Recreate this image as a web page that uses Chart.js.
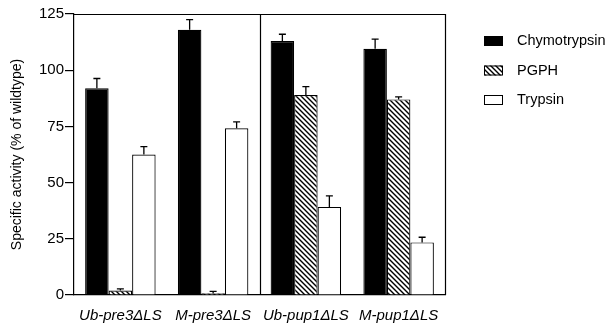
<!DOCTYPE html>
<html>
<head>
<meta charset="utf-8">
<script src="https://cdn.jsdelivr.net/npm/chart.js@4/dist/chart.umd.min.js"></script>
<style>
  html, body { margin: 0; padding: 0; background: #fff; }
  #wrap { width: 611px; height: 324px; }
</style>
</head>
<body>
<div id="wrap"><canvas id="chart" width="611" height="324"></canvas></div>
<script>
var categories = ['Ub-pre3\u0394LS', 'M-pre3\u0394LS', 'Ub-pup1\u0394LS', 'M-pup1\u0394LS'];
var chymotrypsin = [92, 118, 113, 109.5];
var chymotrypsinErr = [4.3, 4.5, 3, 4.3];
var pgph = [2, 0.8, 89, 87];
var pgphErr = [0.7, 0.8, 3.7, 1.1];
var trypsin = [62.5, 74.2, 39.2, 23.4];
var trypsinErr = [3.5, 2.8, 4.9, 2.3];
var yTicks = [0, 25, 50, 75, 100, 125];

var FONT = '"Liberation Sans", Arial, sans-serif';

// diagonal hatch for PGPH
function hatch() {
  var c = document.createElement('canvas');
  c.width = 5; c.height = 5;
  var g = c.getContext('2d');
  g.fillStyle = '#fff';
  g.fillRect(0, 0, 5, 5);
  g.strokeStyle = '#000';
  g.lineWidth = 1.4;
  g.beginPath();
  g.moveTo(-1, -1); g.lineTo(6, 6);
  g.moveTo(-1, 4); g.lineTo(1, 6);
  g.moveTo(4, -1); g.lineTo(6, 1);
  g.stroke();
  return g.createPattern(c, 'repeat');
}
var ctx = document.getElementById('chart').getContext('2d');
var pgphFill = hatch();

var errors = [chymotrypsinErr, pgphErr, trypsinErr];

var extras = {
  id: 'extras',
  afterDatasetsDraw: function(chart) {
    var c = chart.ctx, a = chart.chartArea;
    var x = chart.scales.x, y = chart.scales.y;
    c.save();
    c.strokeStyle = '#000';
    // error bars, upward only
    c.lineWidth = 1.3;
    chart.data.datasets.forEach(function(ds, i) {
      var meta = chart.getDatasetMeta(i);
      meta.data.forEach(function(bar, j) {
        var v = ds.data[j];
        var top = y.getPixelForValue(v + errors[i][j]);
        c.beginPath();
        c.moveTo(bar.x, bar.y);
        c.lineTo(bar.x, top);
        c.moveTo(bar.x - 3.5, top);
        c.lineTo(bar.x + 3.5, top);
        c.stroke();
      });
    });
    // frame top/right and divider
    c.lineWidth = 1.2;
    c.beginPath();
    c.moveTo(a.left, a.top + 0.5);
    c.lineTo(a.right + 0.5, a.top + 0.5);
    c.lineTo(a.right + 0.5, a.bottom);
    var mid = Math.round((x.getPixelForValue(1) + x.getPixelForValue(2)) / 2) + 0.5;
    c.moveTo(mid, a.top);
    c.lineTo(mid, a.bottom);
    c.stroke();
    // legend
    c.font = '14.5px ' + FONT;
    c.textBaseline = 'middle';
    c.fillStyle = '#000';
    chart.data.datasets.forEach(function(ds, i) {
      var cy = 41 + i * 29.5;
      c.fillStyle = ds.backgroundColor;
      c.fillRect(484, cy - 5, 19, 10);
      c.lineWidth = 1;
      c.strokeRect(484.5, cy - 4.5, 18, 9);
      c.fillStyle = '#000';
      c.fillText(ds.label, 517, cy);
    });
    c.restore();
  }
};

new Chart(ctx, {
  type: 'bar',
  data: {
    labels: categories,
    datasets: [
      { label: 'Chymotrypsin', data: chymotrypsin, backgroundColor: '#000' },
      { label: 'PGPH', data: pgph, backgroundColor: pgphFill },
      { label: 'Trypsin', data: trypsin, backgroundColor: '#fff' }
    ]
  },
  options: {
    responsive: false,
    animation: false,
    layout: { padding: { top: 14, right: 166, left: 0, bottom: 0 } },
    datasets: {
      bar: {
        borderColor: '#000',
        borderWidth: 1.2,
        borderSkipped: 'bottom',
        barPercentage: 1,
        categoryPercentage: 0.76
      }
    },
    plugins: {
      legend: { display: false },
      tooltip: { enabled: false }
    },
    scales: {
      x: {
        grid: { display: false },
        border: { display: true, color: '#000', width: 1.2 },
        ticks: {
          color: '#000',
          padding: 4,
          maxRotation: 0,
          autoSkip: false,
          font: { family: FONT, size: 15, style: 'italic' }
        },
        afterFit: function(s) { s.height = 29; }
      },
      y: {
        min: 0,
        max: 125,
        afterBuildTicks: function(s) {
          s.ticks = yTicks.map(function(v) { return { value: v }; });
        },
        grid: { display: true, drawOnChartArea: false, drawTicks: true, tickLength: 9, color: '#000', lineWidth: 1.2 },
        border: { display: true, color: '#000', width: 1.2 },
        ticks: {
          color: '#000',
          padding: 1,
          font: { family: FONT, size: 15 }
        },
        title: {
          display: true,
          text: 'Specific activity (% of wildtype)',
          color: '#000',
          padding: { top: 9, bottom: 0 },
          font: { family: FONT, size: 14 }
        },
        afterFit: function(s) { s.width = 74; }
      }
    }
  },
  plugins: [extras]
});
</script>
</body>
</html>
